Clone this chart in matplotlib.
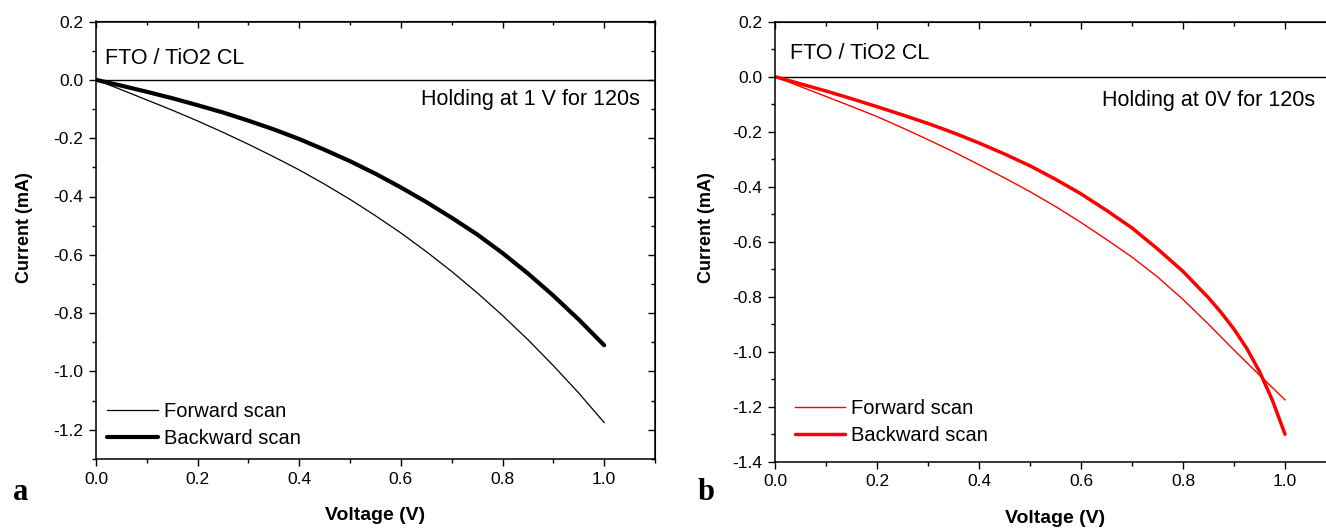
import numpy as np
import matplotlib
matplotlib.use("Agg")
import matplotlib.pyplot as plt
from matplotlib.ticker import MultipleLocator

plt.rcParams['font.family'] = ['Liberation Sans', 'DejaVu Sans']

# voltage sweep (V)
volt = [0.0, 0.05, 0.1, 0.15, 0.2, 0.25, 0.3, 0.35, 0.4, 0.45, 0.5,
        0.55, 0.6, 0.65, 0.7, 0.75, 0.8, 0.85, 0.9, 0.95, 1.0]

# (a) holding at 1 V for 120 s, current in mA
fwd_a = [0.0, -0.034, -0.069, -0.104, -0.141, -0.180, -0.221, -0.264, -0.309, -0.358, -0.410,
         -0.466, -0.525, -0.589, -0.657, -0.730, -0.808, -0.891, -0.980, -1.074, -1.175]
bwd_a = [0.0, -0.020, -0.041, -0.063, -0.087, -0.112, -0.140, -0.170, -0.203, -0.240, -0.279,
         -0.322, -0.369, -0.419, -0.473, -0.530, -0.594, -0.664, -0.740, -0.822, -0.910]

# (b) holding at 0 V for 120 s
fwd_b = [0.0, -0.036, -0.072, -0.108, -0.145, -0.186, -0.229, -0.273, -0.320, -0.368, -0.418,
         -0.472, -0.530, -0.592, -0.656, -0.728, -0.810, -0.900, -0.994, -1.085, -1.175]
volt_b = [0.0, 0.05, 0.1, 0.15, 0.2, 0.25, 0.3, 0.35, 0.4, 0.45, 0.5,
          0.55, 0.6, 0.65, 0.7, 0.75, 0.8, 0.85, 0.875, 0.9, 0.925, 0.95, 0.975, 1.0]
bwd_b = [0.0, -0.026, -0.052, -0.080, -0.109, -0.139, -0.170, -0.204, -0.241, -0.281, -0.324,
         -0.373, -0.426, -0.486, -0.550, -0.626, -0.708, -0.804, -0.858, -0.918, -0.988, -1.072,
         -1.175, -1.300]

W, H = 1326, 530
fig = plt.figure(figsize=(W / 100, H / 100), dpi=100)
ax1 = fig.add_axes([96 / W, 1 - 459 / H, 559 / W, 437.5 / H])
ax2 = fig.add_axes([775 / W, 1 - 461.7 / H, 561 / W, 440 / H])


def style(ax, ylo, note, note_xy, lab_xy):
    ax.set_xlim(0, 1.1)
    ax.set_ylim(ylo, 0.2)
    ax.axhline(0, color='black', lw=1.0, zorder=1)
    ax.xaxis.set_major_locator(MultipleLocator(0.2))
    ax.xaxis.set_minor_locator(MultipleLocator(0.1))
    ax.yaxis.set_major_locator(MultipleLocator(0.2))
    ax.yaxis.set_minor_locator(MultipleLocator(0.1))
    ax.xaxis.set_major_formatter(lambda v, p: f"{v:.1f}")
    ax.yaxis.set_major_formatter(lambda v, p: f"{v:.1f}")
    ax.tick_params(which='major', direction='out', length=5, width=1.0, labelsize=12.5, pad=4)
    ax.tick_params(which='minor', direction='out', length=3, width=1.0)
    for s in ax.spines.values():
        s.set_linewidth(1.1)
    # inward ticks on the top and right edges
    top = ax.secondary_xaxis('top')
    right = ax.secondary_yaxis('right')
    for sec, axis in ((top, top.xaxis), (right, right.yaxis)):
        axis.set_major_locator(MultipleLocator(0.2))
        axis.set_minor_locator(MultipleLocator(0.1))
        sec.tick_params(which='major', direction='in', length=5, width=1.0, labelbottom=False,
                        labeltop=False, labelleft=False, labelright=False)
        sec.tick_params(which='minor', direction='in', length=3, width=1.0)
    ax.set_xlabel('Voltage (V)', fontsize=14, fontweight='bold', labelpad=15)
    ax.set_ylabel('Current (mA)', fontsize=13, fontweight='bold')
    ax.text(lab_xy[0], lab_xy[1], 'FTO / TiO2 CL', fontsize=15.5, va='center', ha='left')
    ax.text(note_xy[0], note_xy[1], note, fontsize=15.5, va='center', ha='right')


leg_kw = dict(loc='lower left', frameon=False, fontsize=14.5, handlelength=2.5,
              handletextpad=0.3, labelspacing=0.4, borderpad=0, borderaxespad=0)

ax1.plot(volt, fwd_a, color='black', lw=0.9, label='Forward scan')
ax1.plot(volt, bwd_a, color='black', lw=3.0, solid_capstyle='round', label='Backward scan')
style(ax1, -1.3, 'Holding at 1 V for 120s', (1.07, -0.068), (0.018, 0.072))
ax1.yaxis.set_label_coords(-0.113, 0.528)
ax1.legend(bbox_to_anchor=(0.02, 0.024), **leg_kw)

ax2.plot(volt, fwd_b, color='#ff0000', lw=1.0, label='Forward scan')
ax2.plot(volt_b, bwd_b, color='#ff0000', lw=2.5, solid_capstyle='round', label='Backward scan')
style(ax2, -1.4, 'Holding at 0V for 120s', (1.059, -0.085), (0.029, 0.084))
ax2.yaxis.set_label_coords(-0.107, 0.531)
ax2.legend(bbox_to_anchor=(0.035, 0.037), **leg_kw)

fig.text(13 / W, 1 - 492 / H, 'a', family='Liberation Serif', fontweight='bold', fontsize=22, va='center')
fig.text(698 / W, 1 - 492 / H, 'b', family='Liberation Serif', fontweight='bold', fontsize=22, va='center')

fig.savefig('out.png', dpi=100)
